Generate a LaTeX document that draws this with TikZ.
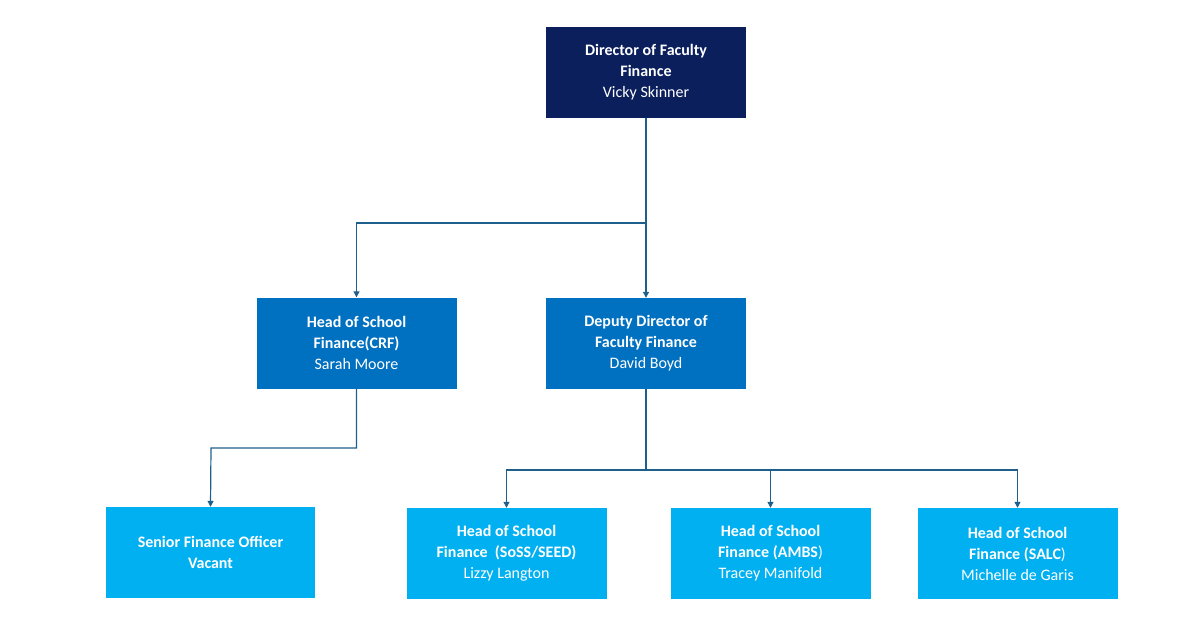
\documentclass[tikz,border=0pt]{standalone}
\usepackage{fontspec}
\setmainfont{Carlito}
\usetikzlibrary{arrows.meta}
\definecolor{navy}{HTML}{0B1F5C}
\definecolor{mid}{HTML}{0070C0}
\definecolor{light}{HTML}{00B0F0}
\definecolor{ln}{HTML}{1F5F8B}
\begin{document}
\begin{tikzpicture}[x=1pt,y=-1pt,
 box/.style={draw=none,text=white,minimum width=200pt,minimum height=91pt,align=center,inner sep=0pt,font=\fontsize{16}{21}\selectfont},
 conn/.style={draw=ln,line width=1.2pt},
 arr/.style={conn,-{Triangle[length=6pt,width=6pt]}}]
\useasboundingbox (0,0) rectangle (1188,627);
\node[box,fill=navy] (dir) at (646,72) {\textbf{Director of Faculty}\\\textbf{Finance}\\Vicky Skinner};
\node[box,fill=mid] (crf) at (356.5,343) {\textbf{Head of School}\\\textbf{Finance(CRF)}\\Sarah Moore};
\node[box,fill=mid] (dep) at (646,343.5) {\textbf{Deputy Director of}\\\textbf{Faculty Finance}\\David Boyd};
\node[box,fill=light,minimum width=209pt] (sfo) at (210.5,552.5) {\textbf{Senior Finance Officer}\\\textbf{Vacant}};
\node[box,fill=light] (soss) at (506.5,553.5) {\textbf{Head of School}\\\textbf{Finance\ \ (SoSS/SEED)}\\Lizzy Langton};
\node[box,fill=light] (ambs) at (770.5,553.5) {\textbf{Head of School}\\\textbf{Finance (AMBS})\\Tracey Manifold};
\node[box,fill=light] (salc) at (1017.5,553.5) {\textbf{Head of School}\\\textbf{Finance (SALC})\\Michelle de Garis};
\coordinate (j1) at (646,223);
\coordinate (j2) at (646,470);
\draw[arr] (dir.south) -- (dep.north);
\draw[arr] (j1) -| (crf.north);
\draw[arr] (crf.south) |- (211,448) -- (sfo.north);
\draw[conn] (dep.south) -- (j2);
\draw[arr] (j2) -| (soss.north);
\draw[arr] (j2) -| (ambs.north);
\draw[arr] (j2) -| (salc.north);
\end{tikzpicture}
\end{document}
